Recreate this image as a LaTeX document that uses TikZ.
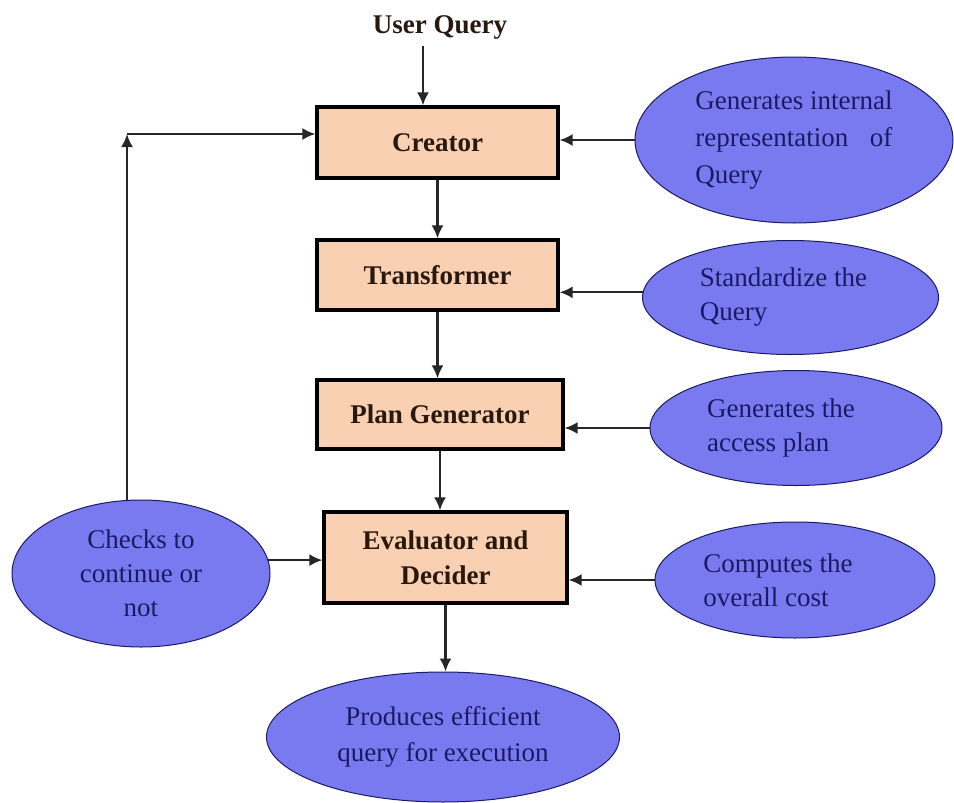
\documentclass[tikz,border=0pt]{standalone}
\usepackage{fontspec}
\setmainfont{Liberation Serif}
\usepackage{xcolor}
\usetikzlibrary{shapes.geometric,arrows.meta}

\definecolor{boxfill}{RGB}{250,208,178}
\definecolor{boxtext}{RGB}{40,24,14}
\definecolor{notefill}{RGB}{122,122,240}
\definecolor{notetext}{RGB}{26,26,100}

\begin{document}
\begin{tikzpicture}[x=0.5pt,y=-0.5pt,
        stage/.style={draw=black,line width=1.6pt,fill=boxfill,text=boxtext,align=center,
            font=\bfseries\fontsize{13.5}{17.5}\selectfont},
        note/.style={ellipse,draw=notetext,line width=0.5pt,fill=notefill,text=notetext,
            inner sep=0pt,font=\fontsize{13.5}{17}\selectfont},
        flow/.style={->,>={Latex[length=6.5pt,width=6pt]},line width=1.1pt,draw=black!85}]
        \useasboundingbox (0,0) rectangle (954,803);

        % optimizer stages
        \node[anchor=base,text=boxtext,font=\bfseries\fontsize{13.5}{16}\selectfont] (query) at (440,33) {User Query};
        \node[stage,minimum width=120.5pt,minimum height=35.5pt] (creator) at (437.5,142.5) {Creator};
        \node[stage,minimum width=120.5pt,minimum height=35pt] (transformer) at (437.5,275) {Transformer};
        \node[stage,minimum width=123pt,minimum height=34.5pt] (plangen) at (440,414.5) {Plan Generator};
        \node[stage,minimum width=121.5pt,minimum height=45.5pt] (evaluator) at (445.5,557.5) {Evaluator and\\Decider};

        % what each stage does
        \node[note,align=left,minimum width=159pt,minimum height=83pt,font=\fontsize{13.5}{18.5}\selectfont] (internal) at (794,140)
            {Generates internal\\representation\hspace{0.8em}of\\Query};
        \node[note,align=left,minimum width=148pt,minimum height=57pt] (standard) at (790.5,297.5)
            {Standardize the\hspace*{7pt}\mbox{}\\Query};
        \node[note,align=left,minimum width=146pt,minimum height=57.5pt] (access) at (796,428)
            {Generates the\hspace*{15pt}\mbox{}\\access plan};
        \node[note,align=left,minimum width=140pt,minimum height=58pt] (cost) at (795,580)
            {Computes the\hspace*{17pt}\mbox{}\\overall cost};
        \node[note,align=center,minimum width=129pt,minimum height=73.5pt] (check) at (141,573.5) {Checks to\\continue or\\not};
        \node[note,align=center,minimum width=176.5pt,minimum height=65pt,font=\fontsize{13.5}{18}\selectfont] (result) at (443,737)
            {Produces efficient\\query for execution};

        % main flow
        \draw[flow] ([xshift=-8.5pt]query.south) -- ([xshift=-8.5pt]query.south |- creator.north);
        \draw[flow] (creator.south) -- (creator.south |- transformer.north);
        \draw[flow] (transformer.south) -- (transformer.south |- plangen.north);
        \draw[flow] (plangen.south) -- (plangen.south |- evaluator.north);
        \draw[flow] (evaluator.south) -- (evaluator.south |- result.north);

        \draw[flow] (internal.west) -- (internal.west -| creator.east);
        \draw[flow] (standard.178) -- (standard.178 -| transformer.east);
        \draw[flow] (access.west) -- (access.west -| plangen.east);
        \draw[flow] (cost.west) -- (cost.west -| evaluator.east);
        \draw[flow] (check.6) -- (check.6 -| evaluator.west);

        % loop back to the creator
        \coordinate (back) at (127,134);
        \draw[flow] (check.north -| back) -- (back);
        \draw[flow] (back) -- (back -| creator.west);
    \end{tikzpicture}
\end{document}
